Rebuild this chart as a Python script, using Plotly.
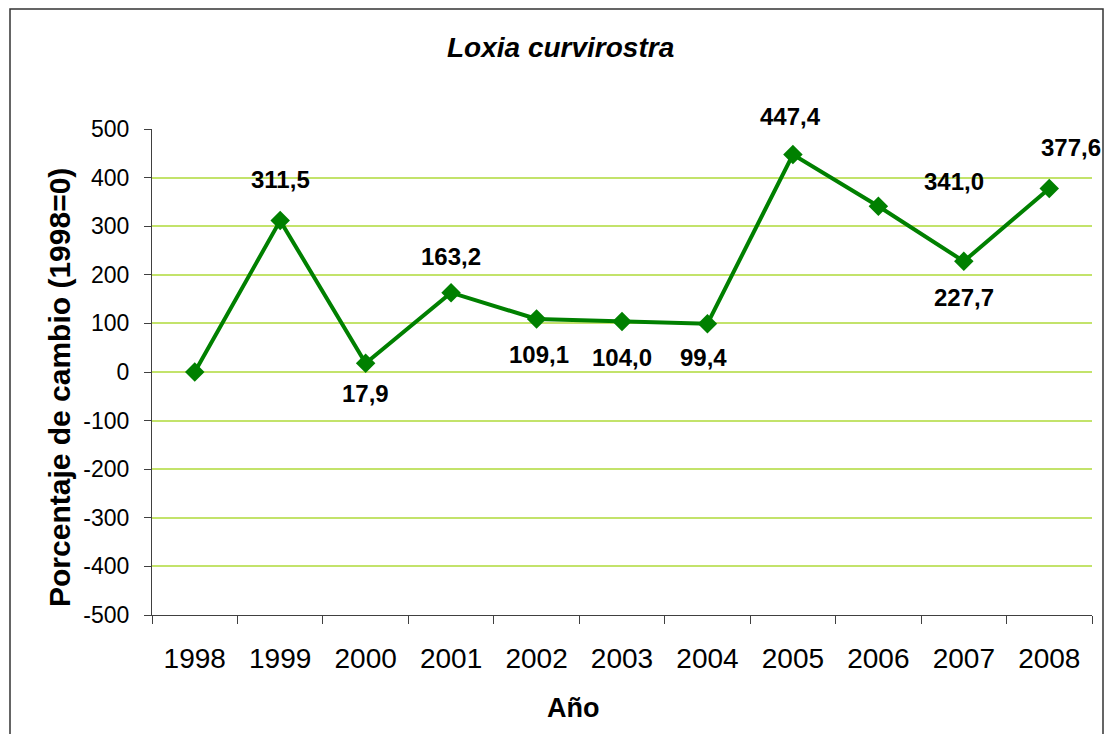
import plotly.graph_objects as go

# Datos
anios = ["1998", "1999", "2000", "2001", "2002", "2003", "2004", "2005", "2006", "2007", "2008"]
cambio = [0.0, 311.5, 17.9, 163.2, 109.1, 104.0, 99.4, 447.4, 341.0, 227.7, 377.6]
y_ticks = [500, 400, 300, 200, 100, 0, -100, -200, -300, -400, -500]

VERDE = "#008000"
REJILLA = "#C3E36B"
FUENTE = "Liberation Sans, Arial"

# Posición de cada etiqueta respecto a su marcador (xshift, yshift)
desplaz = {
    "1999": (0, 41), "2000": (0, -30), "2001": (0, 36), "2002": (2, -36),
    "2003": (0, -36), "2004": (-4, -34), "2005": (-2, 38), "2006": (76, 25),
    "2007": (0, -36), "2008": (22, 41),
}

fig = go.Figure()
fig.add_trace(go.Scatter(
    x=anios, y=cambio, mode="lines+markers",
    line=dict(color=VERDE, width=4),
    marker=dict(symbol="diamond", size=15, color=VERDE),
    showlegend=False, hoverinfo="x+y",
))

# Etiquetas de datos con coma decimal (x = índice de categoría)
for i, (a, v) in enumerate(zip(anios, cambio)):
    if a not in desplaz:
        continue
    dx, dy = desplaz[a]
    fig.add_annotation(
        x=i, y=v, text=f"{v:.1f}".replace(".", ","), showarrow=False,
        xshift=dx, yshift=dy, xanchor="center", yanchor="middle",
        font=dict(family=FUENTE, size=24, color="black", weight="bold"),
    )

# Área de trazado en píxeles de la página (el body tiene 8 px de margen)
PL, PR, PT, PB = 152, 1092, 129, 615
W, H = 1096, 726
pw, ph = PR - PL, PB - PT

def px_x(p):
    return (p - PL) / pw

def px_y(p):
    return (PB - p) / ph

fig.update_xaxes(
    type="category", categoryorder="array", categoryarray=anios,
    range=[-0.5, len(anios) - 0.5],
    tickson="boundaries", ticks="outside", ticklen=8,
    tickcolor="#404040", showline=True, linecolor="#404040", linewidth=1,
    showgrid=False, ticklabelstandoff=18, tickangle=0,
    tickfont=dict(family=FUENTE, size=28, color="black"),
)
fig.update_yaxes(
    range=[-500, 500], tickvals=y_ticks, ticktext=[str(t) for t in y_ticks],
    ticks="outside", ticklen=7, tickcolor="#404040",
    showline=True, linecolor="#404040", linewidth=1,
    showgrid=True, gridcolor=REJILLA, gridwidth=1.5, zeroline=False,
    ticklabelstandoff=10,
    tickfont=dict(family=FUENTE, size=23, color="black"),
)

# Título y títulos de ejes
fig.add_annotation(
    xref="paper", yref="paper", x=px_x(560), y=px_y(47), showarrow=False,
    xanchor="center", yanchor="middle",
    text="<b><i>Loxia curvirostra</i></b>",
    font=dict(family=FUENTE, size=28, color="black"),
)
fig.add_annotation(
    xref="paper", yref="paper", x=px_x(573), y=px_y(708), showarrow=False,
    xanchor="center", yanchor="middle",
    text="<b>Año</b>",
    font=dict(family=FUENTE, size=27, color="black"),
)
fig.add_annotation(
    xref="paper", yref="paper", x=px_x(59), y=px_y(388), showarrow=False,
    xanchor="center", yanchor="middle",
    text="<b>Porcentaje de cambio (1998=0)</b>", textangle=-90,
    font=dict(family=FUENTE, size=30, color="black"),
)

# Marco del gráfico
fig.add_shape(
    type="rect", xref="paper", yref="paper",
    x0=px_x(10), x1=px_x(1103), y0=px_y(750), y1=px_y(9),
    line=dict(color="#333333", width=1.5), layer="above",
)

fig.update_layout(
    width=W, height=H,
    margin=dict(l=PL - 8, r=W + 8 - PR, t=PT - 8, b=H + 8 - PB),
    paper_bgcolor="white", plot_bgcolor="white",
    font=dict(family=FUENTE, color="black"),
)

fig.write_html("out.html")
